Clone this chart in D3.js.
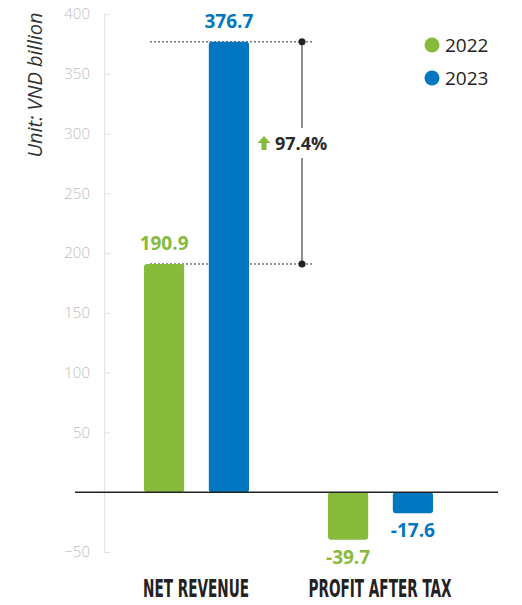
<!DOCTYPE html>
<html>
<head>
<meta charset="utf-8">
<script src="https://cdn.jsdelivr.net/npm/d3@7"></script>
<style>
  body { margin: 0; background: #fff; }
  svg { display: block; }
</style>
</head>
<body>
<div id="container"></div>
<script>
const categories = ["NET REVENUE", "PROFIT AFTER TAX"];
const series = ["2022", "2023"];
const values2022 = [190.9, -39.7];
const values2023 = [376.7, -17.6];
const yTicks = [-50, 50, 100, 150, 200, 250, 300, 350, 400];
const growthLabel = "97.4%";
const colors = { "2022": "#87bb3b", "2023": "#0077c0" };

const w = 522;
const h = 605;
const font = "'Open Sans', 'Inter', sans-serif";

const svg = d3.select('#container').append('svg')
    .attr('width', w)
    .attr('height', h);

const yScale = d3.scaleLinear().domain([-50, 400]).range([552, 14]);
const x0 = d3.scaleBand().domain(categories).range([104, 472]).padding(0);
const x1 = d3.scaleBand().domain(series).range([40, 145]).paddingInner(0.38).paddingOuter(0);

// y axis (light grey, ticks pointing right)
const yAxis = d3.axisLeft(yScale).tickValues(yTicks).tickSize(-6).tickPadding(14);
const yAxisGroup = svg.append('g')
    .attr('transform', 'translate(104,0)')
    .call(yAxis);
yAxisGroup.select('.domain').attr('stroke', '#e4e4e4').attr('stroke-width', 1.2);
yAxisGroup.selectAll('.tick line').attr('stroke', '#e4e4e4').attr('stroke-width', 1.2);
yAxisGroup.selectAll('.tick text')
    .attr('fill', '#bdbdbd')
    .style('font-family', font)
    .style('font-size', '15px')
    .style('font-weight', 300);

// unit label
svg.append('text')
    .attr('transform', 'translate(42,85) rotate(-90)')
    .attr('text-anchor', 'middle')
    .style('font-family', font)
    .style('font-style', 'italic')
    .style('font-size', '20px')
    .attr('fill', '#333')
    .text('Unit: VND billion');

const rows = categories.map((c, i) => ({ cat: c, vals: [
    { s: "2022", v: values2022[i] },
    { s: "2023", v: values2023[i] }
] }));

// annotation lines (behind bars)
const xAnnStart = 150, xAnnEnd = 312, xAnnLine = 302;
const yTop = yScale(values2023[0]);
const yBot = yScale(values2022[0]);
[yTop, yBot].forEach((yy) => {
    svg.append('line')
        .attr('x1', xAnnStart).attr('x2', xAnnEnd)
        .attr('y1', yy).attr('y2', yy)
        .attr('stroke', '#333')
        .attr('stroke-width', 1)
        .attr('stroke-dasharray', '2,2');
});

const groups = svg.selectAll('.group').data(rows)
    .enter()
    .append('g')
    .attr('class', 'group')
    .attr('transform', (d) => 'translate(' + x0(d.cat) + ',0)');

groups.selectAll('rect').data((d) => d.vals)
    .enter()
    .append('rect')
    .attr('x', (d) => x1(d.s))
    .attr('width', x1.bandwidth())
    .attr('y', (d) => yScale(Math.max(0, d.v)))
    .attr('height', (d) => Math.abs(yScale(d.v) - yScale(0)))
    .attr('rx', 3)
    .attr('fill', (d) => colors[d.s]);

groups.selectAll('.val').data((d) => d.vals)
    .enter()
    .append('text')
    .attr('class', 'val')
    .attr('x', (d) => x1(d.s) + x1.bandwidth() / 2)
    .attr('y', (d) => d.v >= 0 ? yScale(d.v) - 14 : yScale(d.v) + 24)
    .attr('text-anchor', 'middle')
    .style('font-family', font)
    .style('font-weight', 700)
    .style('font-size', '19px')
    .attr('fill', (d) => colors[d.s])
    .text((d) => d.v.toFixed(1));

// zero line
svg.append('line')
    .attr('x1', 75).attr('x2', 498)
    .attr('y1', yScale(0)).attr('y2', yScale(0))
    .attr('stroke', '#222')
    .attr('stroke-width', 1.5);

// category labels
svg.selectAll('.cat').data(categories)
    .enter()
    .append('text')
    .attr('class', 'cat')
    .attr('x', (d) => x0(d) + 92)
    .attr('y', 597)
    .attr('text-anchor', 'middle')
    .attr('textLength', (d, i) => i === 0 ? 106 : 143)
    .attr('lengthAdjust', 'spacingAndGlyphs')
    .style('font-family', "'Liberation Sans Narrow', 'DejaVu Sans Condensed', sans-serif")
    .style('font-weight', 700)
    .style('font-size', '24px')
    .attr('fill', '#222')
    .text((d) => d);

// growth annotation
svg.append('line')
    .attr('x1', xAnnLine).attr('x2', xAnnLine)
    .attr('y1', yTop).attr('y2', 128)
    .attr('stroke', '#444').attr('stroke-width', 1.2);
svg.append('line')
    .attr('x1', xAnnLine).attr('x2', xAnnLine)
    .attr('y1', 158).attr('y2', yBot)
    .attr('stroke', '#444').attr('stroke-width', 1.2);
[yTop, yBot].forEach((yy) => {
    svg.append('circle')
        .attr('cx', xAnnLine).attr('cy', yy).attr('r', 3.5)
        .attr('fill', '#222');
});
svg.append('path')
    .attr('d', 'M264,136 L270.5,143 L266.5,143 L266.5,150 L261.5,150 L261.5,143 L257.5,143 Z')
    .attr('fill', colors["2022"]);
svg.append('text')
    .attr('x', 275).attr('y', 150)
    .style('font-family', font)
    .style('font-weight', 700)
    .style('font-size', '18px')
    .attr('fill', '#2a2a2a')
    .text(growthLabel);

// legend
const legend = svg.selectAll('.legend').data(series)
    .enter()
    .append('g')
    .attr('class', 'legend')
    .attr('transform', (d, i) => 'translate(432,' + (45 + i * 33) + ')');
legend.append('circle')
    .attr('r', 7.5)
    .attr('fill', (d) => colors[d]);
legend.append('text')
    .attr('x', 13).attr('y', 7)
    .style('font-family', font)
    .style('font-size', '19px')
    .attr('fill', '#222')
    .text((d) => d);
</script>
</body>
</html>
